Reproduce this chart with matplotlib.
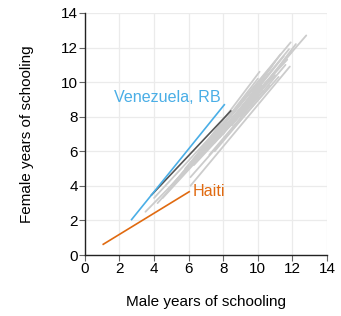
import matplotlib
matplotlib.use("Agg")
import matplotlib.pyplot as plt

plt.rcParams['font.family'] = ['Liberation Sans', 'DejaVu Sans']

# Other countries: start (male, female) -> end (male, female)
gray_male_start = [3.5, 4.2, 4.5, 6.1, 6.1, 5.0, 7.0, 5.5, 6.5, 7.5, 8.0, 4.8, 5.2, 7.2, 8.5,
                   6.8, 7.8, 5.8, 9.0, 6.3, 4.0, 7.5, 8.2, 5.6, 6.6]
gray_female_start = [2.5, 3.0, 3.3, 4.0, 4.5, 4.0, 6.0, 4.5, 5.5, 6.5, 7.0, 3.8, 4.2, 5.8, 7.5,
                      6.0, 6.8, 5.0, 8.0, 5.2, 3.3, 6.0, 7.5, 4.6, 5.8]
gray_male_end = [8.5, 10.2, 11.0, 11.85, 11.2, 11.9, 12.8, 10.1, 11.8, 11.5, 11.0, 9.5, 10.5, 11.6, 12.0,
                 10.8, 11.3, 9.8, 12.2, 10.3, 8.8, 10.7, 11.7, 9.2, 10.0]
gray_female_end = [7.6, 9.8, 10.4, 10.9, 10.3, 12.3, 12.7, 10.6, 11.9, 11.5, 11.2, 9.0, 10.0, 11.0, 11.8,
                   10.9, 11.6, 9.7, 12.2, 9.5, 8.5, 9.8, 11.3, 8.7, 10.2]

# Highlighted
dark_male = [3.85, 8.43]
dark_female = [3.47, 8.33]
venezuela_male = [2.7, 8.06]
venezuela_female = [2.05, 8.69]
haiti_male = [1.06, 6.03]
haiti_female = [0.62, 3.66]

ticks = [0, 2, 4, 6, 8, 10, 12, 14]

fig = plt.figure(figsize=(3.41, 3.16), dpi=100)
ax = fig.add_axes([0.249, 0.193, 0.71, 0.766])

for ms, fs, me, fe in zip(gray_male_start, gray_female_start, gray_male_end, gray_female_end):
    ax.plot([ms, me], [fs, fe], color='#cccccc', lw=1.3, solid_capstyle='round', zorder=2)

ax.plot(dark_male, dark_female, color='#555555', lw=1.2, zorder=3)
ax.plot(venezuela_male, venezuela_female, color='#4aaee6', lw=1.2, zorder=4)
ax.plot(haiti_male, haiti_female, color='#e06a10', lw=1.2, zorder=4)

ax.text(1.68, 9.1, 'Venezuela, RB', color='#4aaee6', fontsize=11.6, va='center', ha='left')
ax.text(6.25, 3.65, 'Haiti', color='#e06a10', fontsize=11.6, va='center', ha='left')

ax.set_xlim(0, 14)
ax.set_ylim(0, 14)
ax.set_xticks(ticks)
ax.set_yticks(ticks)
ax.tick_params(labelsize=11, length=4, width=0.8, color='#666666', pad=1)
ax.grid(True, color='#ebebeb', lw=0.9)
ax.set_axisbelow(True)
for s in ['top', 'right']:
    ax.spines[s].set_visible(False)
for s in ['left', 'bottom']:
    ax.spines[s].set_color('#222222')
    ax.spines[s].set_linewidth(1.0)

ax.set_xlabel('Male years of schooling', fontsize=11)
ax.set_ylabel('Female years of schooling', fontsize=11)
ax.xaxis.set_label_coords(0.5, -0.194)
ax.yaxis.set_label_coords(-0.24, 0.5)
ax.xaxis.label.set_va('center')
ax.yaxis.label.set_va('center')

fig.savefig('out.png', dpi=100)
